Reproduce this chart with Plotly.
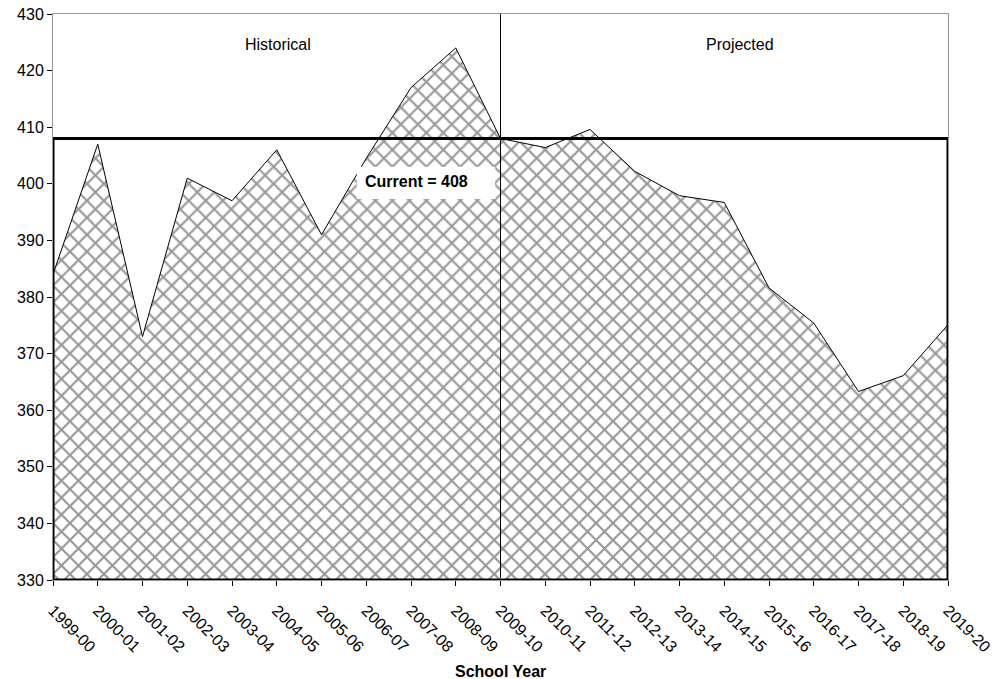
import plotly.graph_objects as go

years = ["1999-00", "2000-01", "2001-02", "2002-03", "2003-04", "2004-05", "2005-06",
         "2006-07", "2007-08", "2008-09", "2009-10", "2010-11", "2011-12", "2012-13",
         "2013-14", "2014-15", "2015-16", "2016-17", "2017-18", "2018-19", "2019-20"]
enrollment = [384, 407, 373, 401, 397, 406, 391, 404.5, 417, 424, 408,
              406.4, 409.6, 402.2, 397.9, 396.7, 381.6, 375.4, 363.3, 366.1, 375.1]
current_value = 408
current_year = "2009-10"
y_min, y_max = 330, 430

FONT = "Liberation Sans, Arial, sans-serif"

fig = go.Figure()
fig.add_trace(go.Scatter(
    x=years, y=enrollment, mode="lines", fill="tozeroy",
    line=dict(color="black", width=1),
    fillcolor="white",
    fillpattern=dict(shape="x", size=12, solidity=0.33, fgcolor="#333333", bgcolor="white"),
    showlegend=False, hoverinfo="x+y",
))

idx_cur = years.index(current_year)
shapes = [
    # white label box
    dict(type="rect", xref="x", yref="y", x0=6.79, x1=9.88, y0=397.3, y1=403.0,
         fillcolor="white", line=dict(width=0), layer="above"),
    # thick "current" rectangle
    dict(type="rect", xref="x", yref="y", x0=0, x1=len(years) - 1, y0=y_min, y1=current_value,
         line=dict(color="black", width=3), fillcolor="rgba(0,0,0,0)", layer="above"),
    # divider historical/projected
    dict(type="line", xref="x", yref="paper", x0=idx_cur, x1=idx_cur, y0=0.004, y1=1.0,
         line=dict(color="black", width=1), layer="above"),
]

annotations = [
    dict(x=6.93, y=400.4, xref="x", yref="y", text="<b>Current = 408</b>", showarrow=False,
         xanchor="left", yanchor="middle", font=dict(family=FONT, size=16, color="black")),
    dict(x=5.03, y=424.7, xref="x", yref="y", text="Historical", showarrow=False,
         xanchor="center", yanchor="middle", font=dict(family=FONT, size=16, color="black")),
    dict(x=15.35, y=424.7, xref="x", yref="y", text="Projected", showarrow=False,
         xanchor="center", yanchor="middle", font=dict(family=FONT, size=16, color="black")),
    dict(x=0.5, y=-0.161, xref="paper", yref="paper", text="<b>School Year</b>", showarrow=False,
         xanchor="center", yanchor="middle", font=dict(family=FONT, size=16, color="black")),
]

fig.update_layout(
    width=997, height=679,
    margin=dict(l=53, r=49, t=14, b=99),
    paper_bgcolor="white", plot_bgcolor="white",
    font=dict(family=FONT, size=15, color="black"),
    shapes=shapes, annotations=annotations,
    xaxis=dict(
        type="category", range=[0, len(years) - 1], tickangle=45, automargin=False,
        showline=True, linecolor="#999999", linewidth=1, mirror=True,
        ticks="outside", ticklen=5, tickcolor="black", showgrid=False, zeroline=False,
        tickfont=dict(family=FONT, size=16), ticklabelstandoff=9, ticklabeloverflow="allow",
    ),
    yaxis=dict(
        range=[y_min, y_max], dtick=10, tick0=330, automargin=False,
        showline=True, linecolor="#999999", linewidth=1, mirror=True,
        ticks="outside", ticklen=5, tickcolor="black", showgrid=False, zeroline=False,
        tickfont=dict(family=FONT, size=16), ticklabeloverflow="allow",
    ),
)

fig.write_html("out.html", config={"displayModeBar": False},
               post_script="document.body.style.margin='0';")
